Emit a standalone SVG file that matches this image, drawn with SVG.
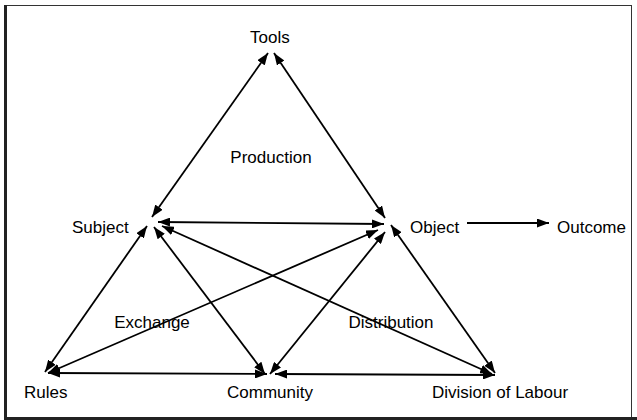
<svg xmlns="http://www.w3.org/2000/svg" width="637" height="420" viewBox="0 0 637 420">
<style>
  text { font-family: "Liberation Sans", Arial, sans-serif; font-size: 17px; fill: #000; }
  .c { stroke: #000; stroke-width: 1.8; fill: none; marker-end: url(#ah); }
  .d { marker-start: url(#ah); }
</style>
<defs>
  <marker id="ah" viewBox="0 0 12 9" refX="12" refY="4.5" markerWidth="12" markerHeight="9" markerUnits="userSpaceOnUse" orient="auto-start-reverse">
    <path d="M0,0 L12,4.5 L0,9 z" fill="#000"/>
  </marker>
</defs>
<rect width="637" height="420" fill="#fff"/>
<g id="frame">
  <line x1="5" y1="5.5" x2="632" y2="5.5" stroke="#333" stroke-width="1"/>
  <line x1="631.5" y1="5" x2="631.5" y2="418" stroke="#333" stroke-width="1"/>
  <line x1="5.5" y1="5" x2="5.5" y2="420" stroke="#222" stroke-width="3"/>
  <line x1="4" y1="418.5" x2="637" y2="418.5" stroke="#222" stroke-width="3"/>
</g>
<g id="connectors">
  <line class="c d" x1="268" y1="53" x2="152" y2="217"/>
  <line class="c d" x1="274" y1="53" x2="385" y2="218"/>
  <line class="c d" x1="158" y1="222" x2="384" y2="224"/>
  <line class="c d" x1="147" y1="226" x2="45" y2="372"/>
  <line class="c d" x1="154" y1="227" x2="265" y2="374"/>
  <line class="c d" x1="162" y1="226" x2="492" y2="374"/>
  <line class="c d" x1="378" y1="230" x2="48" y2="373"/>
  <line class="c d" x1="385" y1="232" x2="270" y2="374"/>
  <line class="c d" x1="391" y1="225" x2="495" y2="373"/>
  <line class="c d" x1="48" y1="373" x2="267" y2="374"/>
  <line class="c d" x1="275" y1="374" x2="495" y2="375"/>
  <line class="c" x1="467" y1="223" x2="549" y2="223"/>
</g>
<g id="tools"><text x="250" y="43">Tools</text></g>
<g id="subject"><text x="72" y="233">Subject</text></g>
<g id="object"><text x="410" y="233">Object</text></g>
<g id="outcome"><text x="557" y="233">Outcome</text></g>
<g id="rules"><text x="24" y="398">Rules</text></g>
<g id="community"><text x="227" y="398">Community</text></g>
<g id="division"><text x="432" y="398">Division of Labour</text></g>
<g id="production"><text x="271" y="163" text-anchor="middle">Production</text></g>
<g id="exchange"><text x="152" y="328" text-anchor="middle">Exchange</text></g>
<g id="distribution"><text x="391" y="328" text-anchor="middle">Distribution</text></g>
</svg>
